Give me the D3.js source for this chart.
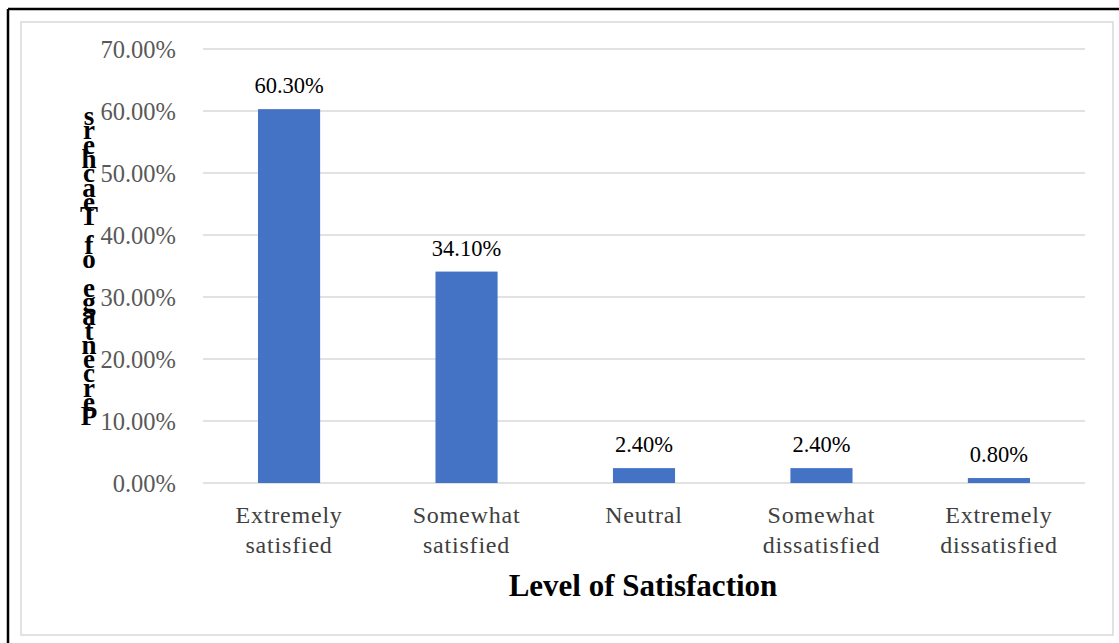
<!DOCTYPE html>
<html>
<head>
<meta charset="utf-8">
<script src="https://cdn.jsdelivr.net/npm/d3@7"></script>
<style>
  body { margin: 0; background: #fff; }
  svg text { font-family: "Liberation Serif", "Times New Roman", "DejaVu Serif", serif; }
</style>
</head>
<body>
<div id="chart"></div>
<script>
const categories = [["Extremely", "satisfied"], ["Somewhat", "satisfied"], ["Neutral"], ["Somewhat", "dissatisfied"], ["Extremely", "dissatisfied"]]
const values = [60.3, 34.1, 2.4, 2.4, 0.8]
const yTicks = [0, 10, 20, 30, 40, 50, 60, 70]
const xTitle = "Level of Satisfaction"
const yTitle = "Percentage of Teachers"

const W = 1119, H = 643
const plot = {left: 203, right: 1085, top: 49, bottom: 483}
const serif = "'Liberation Serif', 'Times New Roman', serif"

const svg = d3.select("#chart").append("svg")
    .attr("width", W)
    .attr("height", H)

// outer frame (top + left only visible)
svg.append("line").attr("x1", 8).attr("x2", W).attr("y1", 9).attr("y2", 9)
    .attr("stroke", "#000").attr("stroke-width", 2.5)
svg.append("line").attr("x1", 8).attr("x2", 8).attr("y1", 9).attr("y2", H)
    .attr("stroke", "#000").attr("stroke-width", 2.5)

// chart area border
svg.append("rect")
    .attr("x", 21).attr("y", 22).attr("width", 1092).attr("height", 613)
    .attr("fill", "#fff").attr("stroke", "#d9d9d9").attr("stroke-width", 1.5)

const x = d3.scaleBand()
    .domain(d3.range(values.length))
    .range([plot.left, plot.right])
    .paddingInner(0.65)
    .paddingOuter(0.31)

const y = d3.scaleLinear()
    .domain([0, 70])
    .range([plot.bottom, plot.top])

// gridlines
svg.append("g").selectAll("line")
    .data(yTicks)
    .join("line")
    .attr("x1", plot.left).attr("x2", plot.right)
    .attr("y1", d => y(d)).attr("y2", d => y(d))
    .attr("stroke", "#d9d9d9").attr("stroke-width", 1.3)

// y tick labels
svg.append("g").selectAll("text")
    .data(yTicks)
    .join("text")
    .attr("x", 176)
    .attr("y", d => y(d) + 8.5)
    .attr("text-anchor", "end")
    .attr("font-family", serif)
    .attr("font-size", 24.5)
    .attr("fill", "#595959")
    .text(d => d.toFixed(2) + "%")

// bars
svg.append("g").selectAll("rect")
    .data(values)
    .join("rect")
    .attr("x", (d, i) => x(i))
    .attr("width", x.bandwidth())
    .attr("y", d => y(d))
    .attr("height", d => y(0) - y(d))
    .attr("fill", "#4472c4")

// data labels
svg.append("g").selectAll("text")
    .data(values)
    .join("text")
    .attr("x", (d, i) => x(i) + x.bandwidth() / 2)
    .attr("y", d => y(d) - 16)
    .attr("text-anchor", "middle")
    .attr("font-family", serif)
    .attr("font-size", 22.5)
    .attr("fill", "#000")
    .text(d => d.toFixed(2) + "%")

// category labels
const cat = svg.append("g").selectAll("text")
    .data(categories)
    .join("text")
    .attr("x", (d, i) => x(i) + x.bandwidth() / 2)
    .attr("y", 523)
    .attr("text-anchor", "middle")
    .attr("font-family", serif)
    .attr("font-size", 24)
    .attr("letter-spacing", 0.8)
    .attr("fill", "#404040")
cat.selectAll("tspan")
    .data(d => d)
    .join("tspan")
    .attr("x", function() { return d3.select(this.parentNode).attr("x") })
    .attr("dy", (d, i) => i === 0 ? 0 : 30)
    .text(d => d)

// x axis title
svg.append("text")
    .attr("x", 643)
    .attr("y", 596)
    .attr("text-anchor", "middle")
    .attr("font-family", serif)
    .attr("font-size", 31)
    .attr("font-weight", "bold")
    .attr("fill", "#000")
    .text(xTitle)

// y axis title: letters stacked, reversed (as rendered in the original)
const letters = yTitle.split("").reverse()
svg.append("g").selectAll("text")
    .data(letters)
    .join("text")
    .attr("x", 89)
    .attr("y", (d, i) => 125 + i * 14.3)
    .attr("text-anchor", "middle")
    .attr("font-family", serif)
    .attr("font-size", 27)
    .attr("font-weight", "bold")
    .attr("fill", "#000")
    .text(d => d)
</script>
</body>
</html>
